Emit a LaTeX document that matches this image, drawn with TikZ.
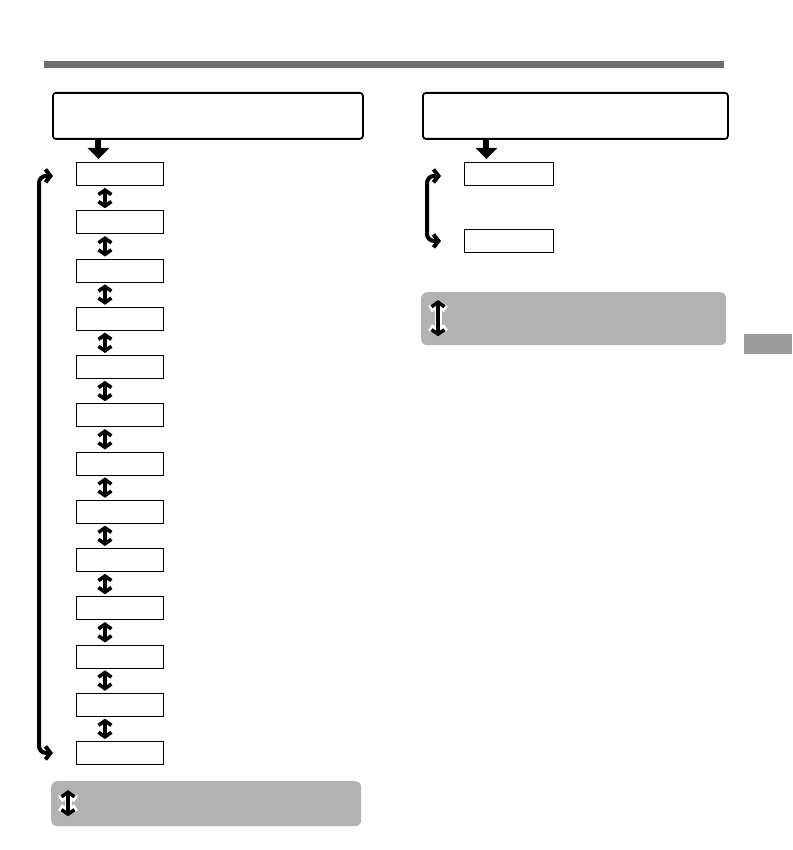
\documentclass[tikz,border=0pt]{standalone}
\usetikzlibrary{arrows.meta,positioning}

\definecolor{bargray}{RGB}{110,110,110}
\definecolor{panelgray}{RGB}{178,178,178}
\definecolor{tabgray}{RGB}{156,156,156}

\newcommand*{\itemgap}{48.25}
\newcommand*{\itemtop}{162}

\begin{document}
\begin{tikzpicture}
[
	x=1pt,y=-1pt,
	hdr/.style={draw,line width=1.8pt,rounded corners=3pt,inner sep=0pt,minimum height=46pt,anchor=north west},
	item/.style={draw,line width=0.9pt,inner sep=0pt,minimum width=87pt,minimum height=23pt,anchor=north west},
	panel/.style={fill=panelgray,rounded corners=6pt,inner sep=0pt,anchor=north west},
	updown/.style={line width=3.6pt,{Straight Barb[length=4.5pt,width=13pt]}-{Straight Barb[length=4.5pt,width=13pt]}},
	halo/.style={white,line width=7pt,line cap=round,{Straight Barb[length=5pt,width=16pt]}-{Straight Barb[length=5pt,width=16pt]}},
	downarr/.style={line width=6pt,-{Triangle[length=11pt,width=21pt]}},
	looparr/.style={line width=4pt,rounded corners=7pt,{Straight Barb[length=5pt,width=13pt]}-{Straight Barb[length=5pt,width=13pt]}}
]
	\useasboundingbox (0,0) rectangle (792,850);

	% top rule and side tab
	\fill[bargray] (44,61) rectangle (724,68);
	\fill[tabgray] (744,334) rectangle (792,354);

	% left column
	\node[hdr,minimum width=310pt] (hdrL) at (52,92) {};
	\foreach \i in {1,...,13} {
		\node[item] (b\i) at (76,{\itemtop+(\i-1)*\itemgap}) {};
	}
	\foreach \i in {1,...,12} {
		\pgfmathtruncatemacro{\j}{\i+1}
		\draw[updown] ([xshift=-15pt,yshift=-2pt]b\i.south) -- ([xshift=-15pt,yshift=2pt]b\j.north);
	}
	\coordinate (inL) at ([xshift=-21.5pt,yshift=3pt]b1.north);
	\draw[downarr] (hdrL.south -| inL) -- (inL);
	\draw[looparr] ([xshift=-23pt,yshift=-2pt]b1.west) -- ++(-14,0) -- ([xshift=-37pt]b13.west) -- ([xshift=-23pt]b13.west);

	\node[panel,minimum width=310pt,minimum height=45pt] (gl) at (51,781) {};
	\draw[halo] ([xshift=17pt,yshift=-9pt]gl.north west) -- ([xshift=17pt,yshift=10pt]gl.south west);
	\draw[updown] ([xshift=17pt,yshift=-9pt]gl.north west) -- ([xshift=17pt,yshift=10pt]gl.south west);

	% right column
	\node[hdr,minimum width=305pt] (hdrR) at (422,92) {};
	\node[item,minimum width=89pt] (r1) at (464,162) {};
	\node[item,minimum width=89pt] (r2) at (464,229) {};
	\coordinate (inR) at ([xshift=-22.5pt,yshift=3pt]r1.north);
	\draw[downarr] (hdrR.south -| inR) -- (inR);
	\draw[looparr] ([xshift=-23pt,yshift=-2pt]r1.west) -- ++(-14,0) -- ([xshift=-37pt]r2.west) -- ([xshift=-23pt]r2.west);

	\node[panel,minimum width=305pt,minimum height=53pt] (gr) at (421,292) {};
	\draw[halo] ([xshift=17pt,yshift=-8pt]gr.north west) -- ([xshift=17pt,yshift=9pt]gr.south west);
	\draw[updown] ([xshift=17pt,yshift=-8pt]gr.north west) -- ([xshift=17pt,yshift=9pt]gr.south west);

\end{tikzpicture}
\end{document}
